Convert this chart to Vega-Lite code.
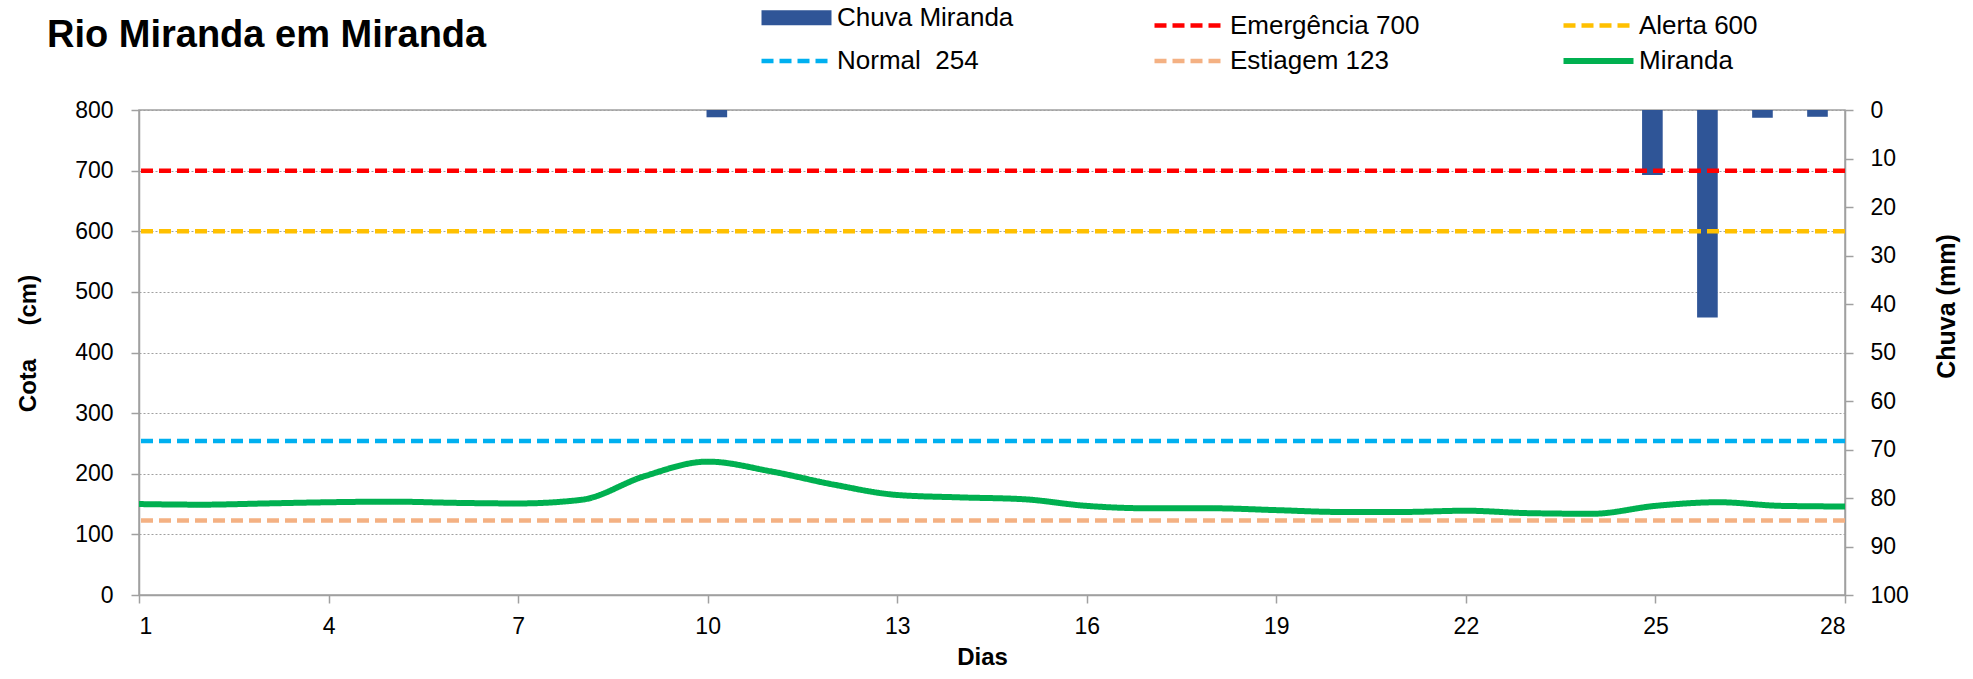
{
  "$schema": "https://vega.github.io/schema/vega-lite/v6.json",
  "width": 1706,
  "height": 485,
  "autosize": {"type": "none"},
  "padding": {"left": 139, "top": 110, "right": 128, "bottom": 84},
  "background": "white",
  "title": {
    "text": "Rio Miranda em Miranda",
    "anchor": "start",
    "frame": "group",
    "font": "Liberation Sans",
    "fontSize": 38,
    "fontWeight": "bold",
    "color": "black",
    "dx": -92,
    "dy": 52,
    "offset": 0
  },
  "datasets": {
    "chuva": [
      {"dia": 1, "chuva": 0}, {"dia": 2, "chuva": 0}, {"dia": 3, "chuva": 0}, {"dia": 4, "chuva": 0},
      {"dia": 5, "chuva": 0}, {"dia": 6, "chuva": 0}, {"dia": 7, "chuva": 0}, {"dia": 8, "chuva": 0},
      {"dia": 9, "chuva": 0}, {"dia": 10, "chuva": 0}, {"dia": 11, "chuva": 1.5}, {"dia": 12, "chuva": 0},
      {"dia": 13, "chuva": 0}, {"dia": 14, "chuva": 0}, {"dia": 15, "chuva": 0}, {"dia": 16, "chuva": 0},
      {"dia": 17, "chuva": 0}, {"dia": 18, "chuva": 0}, {"dia": 19, "chuva": 0}, {"dia": 20, "chuva": 0},
      {"dia": 21, "chuva": 0}, {"dia": 22, "chuva": 0}, {"dia": 23, "chuva": 0}, {"dia": 24, "chuva": 0},
      {"dia": 25, "chuva": 0}, {"dia": 26, "chuva": 0}, {"dia": 27, "chuva": 0}, {"dia": 28, "chuva": 13.4},
      {"dia": 29, "chuva": 42.8}, {"dia": 30, "chuva": 1.6}, {"dia": 31, "chuva": 1.4}
    ],
    "cotas": [
      {"serie": "Emergência 700", "cota": 700},
      {"serie": "Alerta 600", "cota": 600},
      {"serie": "Normal\u00a0\u00a0254", "cota": 254},
      {"serie": "Estiagem 123", "cota": 123}
    ],
    "miranda": [
      {"dia": 1, "cota": 150, "serie": "Miranda"}, {"dia": 2, "cota": 149, "serie": "Miranda"},
      {"dia": 3, "cota": 151, "serie": "Miranda"}, {"dia": 4, "cota": 153, "serie": "Miranda"},
      {"dia": 5, "cota": 154, "serie": "Miranda"}, {"dia": 6, "cota": 152, "serie": "Miranda"},
      {"dia": 7, "cota": 151, "serie": "Miranda"}, {"dia": 8, "cota": 157, "serie": "Miranda"},
      {"dia": 9, "cota": 196, "serie": "Miranda"}, {"dia": 10, "cota": 220, "serie": "Miranda"},
      {"dia": 11, "cota": 204, "serie": "Miranda"}, {"dia": 12, "cota": 182, "serie": "Miranda"},
      {"dia": 13, "cota": 165, "serie": "Miranda"}, {"dia": 14, "cota": 161, "serie": "Miranda"},
      {"dia": 15, "cota": 158, "serie": "Miranda"}, {"dia": 16, "cota": 147, "serie": "Miranda"},
      {"dia": 17, "cota": 143, "serie": "Miranda"}, {"dia": 18, "cota": 143, "serie": "Miranda"},
      {"dia": 19, "cota": 140, "serie": "Miranda"}, {"dia": 20, "cota": 137, "serie": "Miranda"},
      {"dia": 21, "cota": 137, "serie": "Miranda"}, {"dia": 22, "cota": 139, "serie": "Miranda"},
      {"dia": 23, "cota": 135, "serie": "Miranda"}, {"dia": 24, "cota": 134, "serie": "Miranda"},
      {"dia": 25, "cota": 147, "serie": "Miranda"}, {"dia": 26, "cota": 153, "serie": "Miranda"},
      {"dia": 27, "cota": 147, "serie": "Miranda"}, {"dia": 28, "cota": 146, "serie": "Miranda"}
    ]
  },
  "layer": [
    {
      "data": {"name": "chuva"},
      "mark": {"type": "bar", "color": "#2F5597"},
      "encoding": {
        "x": {
          "field": "dia", "type": "ordinal",
          "scale": {"domain": [1,2,3,4,5,6,7,8,9,10,11,12,13,14,15,16,17,18,19,20,21,22,23,24,25,26,27,28,29,30,31], "paddingInner": 0.625, "paddingOuter": 0.3125},
          "axis": null
        },
        "y": {
          "field": "chuva", "type": "quantitative",
          "scale": {"domain": [0, 100], "reverse": true, "nice": false},
          "axis": {
            "orient": "right",
            "values": [0,10,20,30,40,50,60,70,80,90,100],
            "grid": false,
            "labelPadding": 17,
            "title": "Chuva (mm)",
            "titleFontSize": 25,
            "titleX": 101,
            "titleY": 196,
            "titleAngle": 270,
            "titleBaseline": "middle",
            "titleAlign": "center"
          }
        }
      }
    },
    {
      "data": {"name": "cotas"},
      "mark": {"type": "rule"},
      "encoding": {
        "y": {"field": "cota", "type": "quantitative", "scale": {"domain": [0, 800], "nice": false}, "axis": null},
        "color": {
          "field": "serie", "type": "nominal",
          "scale": {"domain": ["Chuva Miranda", "Emergência 700", "Alerta 600", "Normal\u00a0\u00a0254", "Estiagem 123", "Miranda"], "range": ["#2F5597", "#FF0000", "#FFC000", "#00B0F0", "#F4B183", "#00B050"]},
          "legend": {"orient": "none", "legendX": 643, "legendY": -107, "direction": "horizontal", "columns": 3, "title": null, "symbolType": "M-5,0H5", "symbolSize": 196, "labelFontSize": 26, "labelFont": "Liberation Sans", "labelColor": "black", "labelLimit": 400, "columnPadding": 131, "rowPadding": -2, "labelOffset": 26, "gridAlign": "each"}
        },
        "strokeDash": {
          "field": "serie", "type": "nominal",
          "scale": {"domain": ["Chuva Miranda", "Emergência 700", "Alerta 600", "Normal\u00a0\u00a0254", "Estiagem 123", "Miranda"], "range": [[1,0],[12,6],[12,6],[12,6],[12,6],[1,0]]},
          "legend": {"orient": "none", "legendX": 643, "legendY": -107, "direction": "horizontal", "columns": 3, "title": null, "symbolType": "M-5,0H5", "symbolSize": 196, "labelFontSize": 26, "labelFont": "Liberation Sans", "labelColor": "black", "labelLimit": 400, "columnPadding": 131, "rowPadding": -2, "labelOffset": 26, "gridAlign": "each"}
        },
        "strokeWidth": {
          "field": "serie", "type": "nominal",
          "scale": {"type": "ordinal", "domain": ["Chuva Miranda", "Emergência 700", "Alerta 600", "Normal\u00a0\u00a0254", "Estiagem 123", "Miranda"], "range": [15, 4.5, 4.5, 4.5, 4.5, 6]},
          "legend": {"orient": "none", "legendX": 643, "legendY": -107, "direction": "horizontal", "columns": 3, "title": null, "symbolType": "M-5,0H5", "symbolSize": 196, "labelFontSize": 26, "labelFont": "Liberation Sans", "labelColor": "black", "labelLimit": 400, "columnPadding": 131, "rowPadding": -2, "labelOffset": 26, "gridAlign": "each"}
        }
      }
    },
    {
      "data": {"name": "miranda"},
      "mark": {"type": "line", "interpolate": "monotone"},
      "encoding": {
        "x": {
          "field": "dia", "type": "quantitative",
          "scale": {"domain": [1, 28], "nice": false, "zero": false},
          "axis": {
            "values": [1,4,7,10,13,16,19,22,25,28],
            "grid": false,
            "labelPadding": 12,
            "title": "Dias",
            "titleX": 843,
            "titleY": 62,
            "titleBaseline": "middle",
            "titleAlign": "center"
          }
        },
        "y": {
          "field": "cota", "type": "quantitative",
          "scale": {"domain": [0, 800], "nice": false},
          "axis": {
            "values": [0,100,200,300,400,500,600,700,800],
            "grid": true,
            "gridColor": "#A0A0A0",
            "gridDash": [2, 2],
            "gridWidth": 1,
            "labelPadding": 18,
            "title": "Cota\u00a0\u00a0\u00a0\u00a0\u00a0(cm)",
            "titleX": -111,
            "titleY": 233,
            "titleAngle": 270,
            "titleBaseline": "middle",
            "titleAlign": "center"
          }
        },
        "color": {
          "field": "serie", "type": "nominal",
          "scale": {"domain": ["Chuva Miranda", "Emergência 700", "Alerta 600", "Normal\u00a0\u00a0254", "Estiagem 123", "Miranda"], "range": ["#2F5597", "#FF0000", "#FFC000", "#00B0F0", "#F4B183", "#00B050"]},
          "legend": {"orient": "none", "legendX": 643, "legendY": -107, "direction": "horizontal", "columns": 3, "title": null, "symbolType": "M-5,0H5", "symbolSize": 196, "labelFontSize": 26, "labelFont": "Liberation Sans", "labelColor": "black", "labelLimit": 400, "columnPadding": 131, "rowPadding": -2, "labelOffset": 26, "gridAlign": "each"}
        },
        "strokeDash": {
          "field": "serie", "type": "nominal",
          "scale": {"domain": ["Chuva Miranda", "Emergência 700", "Alerta 600", "Normal\u00a0\u00a0254", "Estiagem 123", "Miranda"], "range": [[1,0],[12,6],[12,6],[12,6],[12,6],[1,0]]},
          "legend": {"orient": "none", "legendX": 643, "legendY": -107, "direction": "horizontal", "columns": 3, "title": null, "symbolType": "M-5,0H5", "symbolSize": 196, "labelFontSize": 26, "labelFont": "Liberation Sans", "labelColor": "black", "labelLimit": 400, "columnPadding": 131, "rowPadding": -2, "labelOffset": 26, "gridAlign": "each"}
        },
        "strokeWidth": {
          "field": "serie", "type": "nominal",
          "scale": {"type": "ordinal", "domain": ["Chuva Miranda", "Emergência 700", "Alerta 600", "Normal\u00a0\u00a0254", "Estiagem 123", "Miranda"], "range": [15, 4.5, 4.5, 4.5, 4.5, 6]},
          "legend": {"orient": "none", "legendX": 643, "legendY": -107, "direction": "horizontal", "columns": 3, "title": null, "symbolType": "M-5,0H5", "symbolSize": 196, "labelFontSize": 26, "labelFont": "Liberation Sans", "labelColor": "black", "labelLimit": 400, "columnPadding": 131, "rowPadding": -2, "labelOffset": 26, "gridAlign": "each"}
        }
      }
    }
  ],
  "resolve": {"scale": {"x": "independent", "y": "independent"}},
  "config": {
    "view": {"stroke": "#A0A0A0", "strokeWidth": 1.5},
    "axis": {
      "labelFont": "Liberation Sans",
      "labelFontSize": 23,
      "labelColor": "black",
      "titleFont": "Liberation Sans",
      "titleFontSize": 24,
      "titleFontWeight": "bold",
      "titleColor": "black",
      "domainColor": "#A0A0A0",
      "domainWidth": 1.5,
      "tickColor": "#A0A0A0",
      "tickWidth": 1.5,
      "tickSize": 8
    }
  }
}
